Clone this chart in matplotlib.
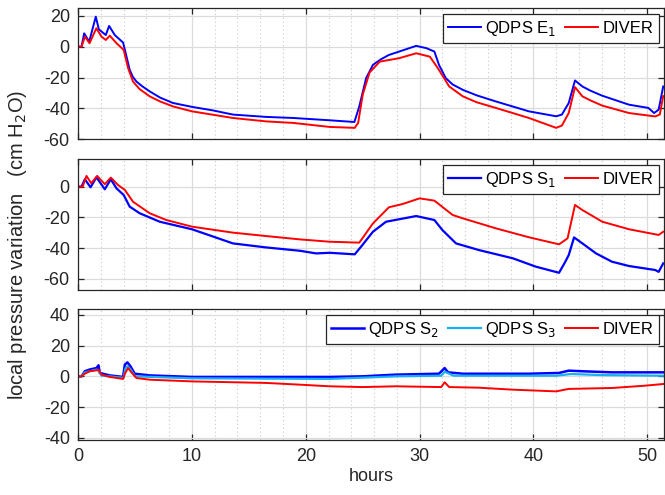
import numpy as np
import matplotlib
matplotlib.use("Agg")
import matplotlib.pyplot as plt
from matplotlib.ticker import MultipleLocator

plt.rcParams['font.family'] = ['Liberation Sans', 'DejaVu Sans']
plt.rcParams['axes.unicode_minus'] = False

#---------------------------------------------------------------------------
# data (hours, cm H2O)

# panel 1 : QDPS E1 vs DIVER
t_e1 = [0, 0.3, 0.53, 0.97, 1.55, 1.82, 2.43, 2.72, 3.22, 3.95, 4.18, 4.53, 4.8, 5.12,
        5.6, 6.29, 7.2, 8.33, 10, 11.84, 13.6, 16.5, 18.9, 22.1, 24.27, 24.7, 25.3,
        25.9, 26.6, 27.3, 28.2, 29.7, 30.6, 31.3, 31.7, 32.3, 32.9, 33.8, 35.0, 36.7,
        39.6, 42.0, 42.5, 43.1, 43.65, 44.3, 45.0, 46.05, 48.4, 50.1, 50.6, 51.0, 51.4]
p_e1 = [0, 0, 8.6, 3.2, 19.4, 11.2, 7.5, 13.4, 7.5, 2.6, -4.3, -15, -19.5, -22.6,
        -25.5, -29, -33, -36.5, -39, -41.3, -44, -45.5, -46.2, -47.7, -48.8, -38.7, -20.4,
        -11.8, -8.2, -5.4, -3.2, 0.5, -1, -3.2, -11.8, -20.4, -24.5, -28, -31.5, -35.5,
        -41.9, -45.1, -44, -36.5, -21.9, -25.8, -28.5, -31.8, -37.6, -39.7, -43, -40.8, -25.8]
t_d1 = [0, 0.3, 0.6, 1.0, 1.6, 2.05, 2.43, 2.78, 3.37, 4.0, 4.39, 4.82, 5.4, 6.29,
        7.2, 8.33, 10, 13.6, 16.5, 18.9, 22.1, 24.3, 24.6, 25.0, 25.6, 26.5, 28.2,
        29.7, 30.9, 31.6, 32.6, 33.8, 35.0, 36.7, 39.6, 42.0, 42.5, 43.1, 43.65, 44.3,
        45.0, 46.05, 48.4, 50.7, 51.1, 51.4]
p_d1 = [0, 0, 6.5, 2.2, 11.9, 6.5, 4.3, 7.1, 2.2, -2.1, -13.9, -22.6, -27.5, -32.2,
        -35.5, -38.7, -41.9, -46.2, -48.4, -49.4, -52, -52.6, -49.4, -31.2, -16.8, -9.7, -7.5,
        -4.3, -6.5, -13.9, -25.8, -32.2, -36, -39.7, -46.2, -52.6, -51.1, -43, -26.2, -32.2,
        -34.8, -38.2, -43, -45.2, -44, -32]

# panel 2 : QDPS S1 vs DIVER
t_s1 = [0, 0.3, 0.59, 1.09, 1.61, 2.34, 2.87, 3.37, 4.0, 4.53, 5.41, 7.17, 10, 13.6,
        16.5, 19.5, 20.9, 22.1, 24.3, 24.86, 25.9, 27.05, 28.2, 29.7, 31.3, 32.0, 33.2,
        35.2, 38.2, 40.2, 42.25, 42.8, 43.1, 43.57, 44.3, 45.5, 46.9, 48.4, 50.7, 51.0,
        51.4]
p_s1 = [0, 0, 4.8, -0.4, 6.1, -1.7, 4.8, -1.1, -5.4, -13, -17.3, -22.8, -27.7, -36.9,
        -39.5, -41.7, -43.4, -43, -44, -39, -29.3, -22.8, -21.2, -19.1, -21.7, -28.2, -36.9,
        -41.2, -46.6, -52, -56, -48.8, -44.5, -33, -36.9, -43.4, -48.8, -51.6, -54.2, -55.4,
        -49.9]
t_d2 = [0, 0.4, 0.73, 1.15, 1.67, 2.34, 2.87, 3.5, 4.1, 4.82, 6.29, 7.75, 10, 13.6,
        16.5, 19.5, 22.1, 24.7, 25.9, 27.3, 28.5, 30.0, 31.3, 32.9, 33.8, 36.7, 39.6,
        42.25, 43.0, 43.65, 44.3, 46.05, 48.4, 51.0, 51.4]
p_d2 = [0, 0, 7.0, 2.2, 7.0, 1.6, 5.9, 1.1, -2.1, -9.8, -17.3, -21.7, -26, -29.9,
        -32.1, -34.3, -35.8, -36.4, -23.9, -13.4, -11.3, -7.6, -9.1, -18.4, -20.6, -27.1, -32.9,
        -37.5, -33.6, -11.9, -15.2, -22.8, -27.7, -31.4, -29.3]

# panel 3 : QDPS S2, S3 vs DIVER
t_s2 = [0, 0.3, 0.59, 1.0, 1.61, 1.79, 1.9, 2.78, 3.95, 4.1, 4.33, 4.6, 4.97, 6.3,
        10, 16.5, 22.1, 25.0, 27.9, 31.7, 32.2, 32.5, 33.8, 39.6, 42.25, 43.1, 44.3,
        46.9, 51.4]
p_s2 = [0, 0, 3.3, 4.4, 5.4, 7.2, 2.2, 0.6, -0.4, 7.6, 9.1, 6.5, 1.7, 0.6,
        -0.4, -0.4, -0.4, 0, 1.1, 1.7, 5.4, 2.6, 1.7, 1.7, 2.2, 3.7, 3.3,
        2.6, 2.6]
t_s3 = [0, 0.3, 0.6, 1.6, 1.8, 2.05, 4.0, 4.15, 4.33, 4.6, 5.0, 10, 22.1, 28.0,
        31.9, 32.2, 33.0, 42.0, 43.3, 46.0, 51.4]
p_s3 = [0, 0, 2.5, 4.4, 3.5, 0.5, -1, 5.0, 6.5, 4.5, 0, -1.3, -1.7, 0,
        0.4, 3.0, 0.4, 0.4, 1.5, 0.8, 0.4]
t_d3 = [0, 0.3, 0.59, 1.0, 1.61, 1.79, 2.05, 2.78, 3.95, 4.1, 4.39, 4.68, 5.12, 6.3,
        10, 16.5, 19.4, 22.1, 25.0, 27.9, 31.9, 32.2, 32.6, 35.2, 38.2, 42.0, 43.1,
        46.9, 49.8, 51.4]
p_d3 = [0, 0, 1.7, 3.3, 3.9, 4.3, 1.1, -0.4, -1.7, 1.7, 5.4, 2.6, -1.1, -2.2,
        -3.3, -4.3, -5.4, -6.5, -7, -6.5, -7, -3.9, -7, -7.4, -8.7, -9.8, -8.2,
        -7.6, -6.1, -5]

#---------------------------------------------------------------------------
fig = plt.figure(figsize=(6.65, 4.95), dpi=100)
axes_pos = [[0.1175, 0.7186, 0.8815, 0.2652],
            [0.1175, 0.4135, 0.8815, 0.2647],
            [0.1175, 0.1111, 0.8815, 0.2641]]
ylims = [(-60, 25), (-67.4, 17.8), (-41.5, 43.7)]
cyan = '#1ab0f0'

axs = [fig.add_axes(p) for p in axes_pos]
axs[0].plot(t_e1, p_e1, color='blue', lw=1.4, label='QDPS E$_1$')
axs[0].plot(t_d1, p_d1, color='red', lw=1.4, label='DIVER')
axs[1].plot(t_s1, p_s1, color='blue', lw=1.6, label='QDPS S$_1$')
axs[1].plot(t_d2, p_d2, color='red', lw=1.4, label='DIVER')
axs[2].plot(t_s2, p_s2, color='blue', lw=1.8, label='QDPS S$_2$')
axs[2].plot(t_s3, p_s3, color=cyan, lw=1.6, label='QDPS S$_3$')
axs[2].plot(t_d3, p_d3, color='red', lw=1.4, label='DIVER')

dark = '#262626'
for i, ax in enumerate(axs):
    ax.set_xlim(0, 51.5)
    ax.set_ylim(*ylims[i])
    ax.xaxis.set_major_locator(MultipleLocator(10))
    ax.xaxis.set_minor_locator(MultipleLocator(2))
    ax.yaxis.set_major_locator(MultipleLocator(20))
    ax.grid(which='major', color='#dcdcdc', lw=0.9)
    ax.grid(which='minor', axis='x', color='#c8c8c8', lw=0.8, ls=(0, (1, 2.5)))
    ax.set_axisbelow(True)
    ax.tick_params(which='major', direction='in', top=True, right=True,
                   length=4, width=0.9, color=dark, labelsize=13, labelcolor=dark, pad=6)
    ax.tick_params(which='minor', length=0)
    for s in ax.spines.values():
        s.set_color(dark)
        s.set_linewidth(0.9)
    if i < 2:
        ax.tick_params(labelbottom=False)
        ncol = 2
    else:
        ncol = 3
    leg = ax.legend(loc='upper right', ncol=ncol, fontsize=12, frameon=True,
                    fancybox=False, edgecolor=dark, framealpha=1,
                    borderpad=0.3, columnspacing=0.5, handlelength=2.0,
                    handletextpad=0.25, borderaxespad=0.35)
    leg.get_frame().set_linewidth(0.9)

axs[2].set_xlabel('hours', fontsize=13, color=dark, labelpad=2)
fig.text(0.027, 0.505, 'local pressure variation   (cm H$_2$O)', rotation=90,
         ha='center', va='center', fontsize=14.5, color=dark)

fig.savefig('out.png', dpi=100)
